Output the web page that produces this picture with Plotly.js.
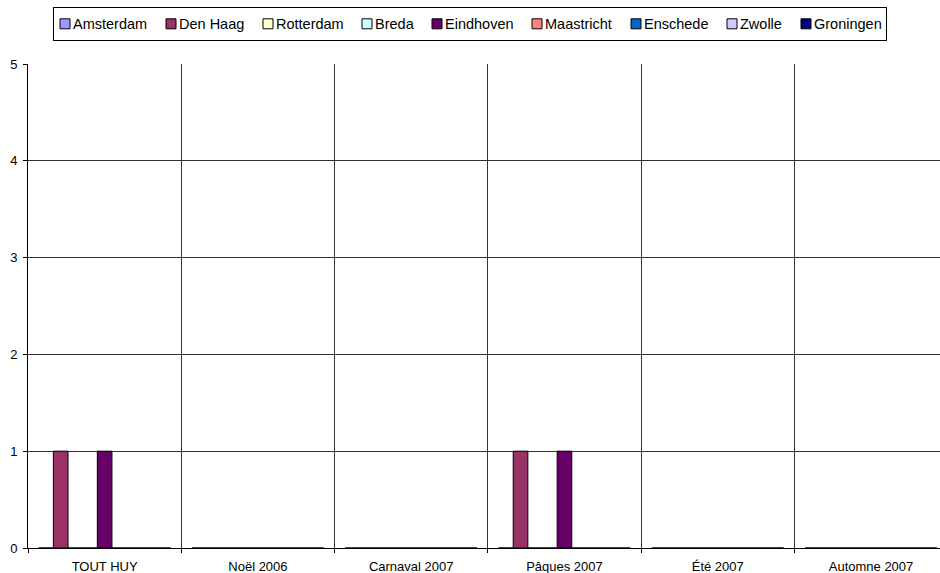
<!DOCTYPE html>
<html>
<head>
<meta charset="utf-8">
<script src="https://cdn.plot.ly/plotly-3.0.1.min.js"></script>
<style>
html,body{margin:0;padding:0;background:#fff;overflow:hidden;}
#chart{width:940px;height:573px;}
</style>
</head>
<body>
<div id="chart"></div>
<script>
var categories = ["TOUT HUY", "Noël 2006", "Carnaval 2007", "Pâques 2007", "Été 2007", "Automne 2007"];
var seriesNames = ["Amsterdam", "Den Haag", "Rotterdam", "Breda", "Eindhoven", "Maastricht", "Enschede", "Zwolle", "Groningen"];
var seriesColors = ["#9999FF", "#993366", "#FFFFCC", "#CCFFFF", "#660066", "#FF8080", "#0066CC", "#CCCCFF", "#000080"];
var amsterdam  = [0, 0, 0, 0, 0, 0];
var denHaag    = [1, 0, 0, 1, 0, 0];
var rotterdam  = [0, 0, 0, 0, 0, 0];
var breda      = [0, 0, 0, 0, 0, 0];
var eindhoven  = [1, 0, 0, 1, 0, 0];
var maastricht = [0, 0, 0, 0, 0, 0];
var enschede   = [0, 0, 0, 0, 0, 0];
var zwolle     = [0, 0, 0, 0, 0, 0];
var groningen  = [0, 0, 0, 0, 0, 0];
var seriesValues = [amsterdam, denHaag, rotterdam, breda, eindhoven, maastricht, enschede, zwolle, groningen];
var yTicks = [0, 1, 2, 3, 4, 5];

var FONT = "Liberation Sans, Arial, sans-serif";
var LEGEND_SIZE = 14.5;
var LEGEND_TEXT_X = 19;               // label offset inside a legend entry (plotly default 40)
var SWATCH_PATH = "M-4,5H-14V-5H-4Z"; // 10px swatch, moved left inside the entry

// measure legend label widths so the legend entries can be packed tightly
var ctx = document.createElement("canvas").getContext("2d");
ctx.font = LEGEND_SIZE + "px 'Liberation Sans', Arial, sans-serif";
function textW(s) { return ctx.measureText(s).width; }

var traces = seriesNames.map(function (name, i) {
  var last = i === seriesNames.length - 1;
  return {
    type: "bar",
    name: name,
    x: categories,
    y: seriesValues[i],
    marker: { color: seriesColors[i], line: { color: "#000000", width: 1 } },
    hoverinfo: "x+y+name",
    legendwidth: Math.max(1, Math.round(textW(name) - (last ? 22 : 13.3)))
  };
});

var layout = {
  width: 940,
  height: 573,
  paper_bgcolor: "#ffffff",
  plot_bgcolor: "#ffffff",
  font: { family: FONT, size: 13, color: "#000000" },
  margin: { l: 28, r: 0, t: 64, b: 25, pad: 0 },
  barmode: "group",
  bargap: 0.14,
  bargroupgap: 0,
  showlegend: true,
  legend: {
    orientation: "h",
    xref: "container",
    yref: "container",
    x: 0.5,
    xanchor: "center",
    y: 0.988,
    yanchor: "top",
    bordercolor: "#000000",
    borderwidth: 1,
    bgcolor: "#ffffff",
    font: { family: FONT, size: LEGEND_SIZE, color: "#000000" },
    traceorder: "normal",
    itemclick: false
  },
  xaxis: {
    type: "category",
    categoryorder: "array",
    categoryarray: categories,
    range: [-0.5, 5.45],
    tickson: "boundaries",
    ticks: "outside",
    ticklen: 4,
    tickcolor: "#000000",
    showgrid: true,
    gridcolor: "#333333",
    gridwidth: 1,
    showline: true,
    linecolor: "#000000",
    linewidth: 1,
    ticklabelstandoff: 6,
    tickfont: { size: 13 },
    fixedrange: true
  },
  yaxis: {
    range: [0, 5],
    tickmode: "array",
    tickvals: yTicks,
    ticktext: yTicks.map(String),
    ticks: "outside",
    ticklen: 4,
    tickcolor: "#000000",
    showgrid: true,
    gridcolor: "#333333",
    gridwidth: 1,
    zeroline: false,
    showline: true,
    linecolor: "#000000",
    linewidth: 1,
    ticklabelstandoff: 3,
    tickfont: { size: 13 },
    fixedrange: true
  }
};

Plotly.newPlot("chart", traces, layout, { displayModeBar: false, staticPlot: true }).then(function (gd) {
  // Excel-like legend entries: small swatch with the label right next to it
  gd.querySelectorAll(".legend .legendtext").forEach(function (t) {
    t.setAttribute("x", LEGEND_TEXT_X);
    t.querySelectorAll("tspan.line").forEach(function (s) { s.setAttribute("x", LEGEND_TEXT_X); });
  });
  gd.querySelectorAll(".legend .legendpoints path").forEach(function (p) {
    p.setAttribute("d", SWATCH_PATH);
  });
});
</script>
</body>
</html>
